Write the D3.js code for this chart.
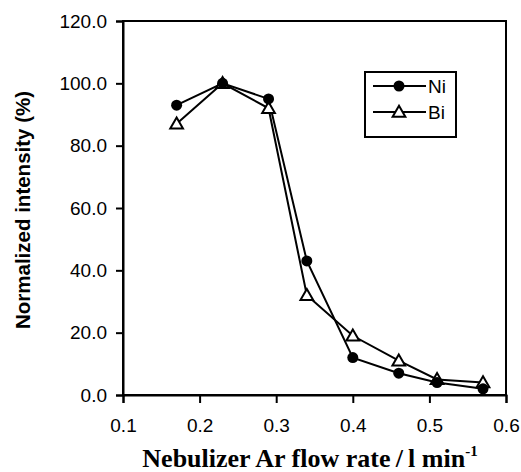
<!DOCTYPE html>
<html>
<head>
<meta charset="utf-8">
<script src="https://cdn.jsdelivr.net/npm/d3@7"></script>
<style>
  body { margin: 0; background: #fff; }
  svg { display: block; }
</style>
</head>
<body>
<div id="chart-area"></div>
<script>
const flowRate = [0.17, 0.23, 0.29, 0.34, 0.40, 0.46, 0.51, 0.57]
const niValues = [93, 100, 95, 43, 12, 7, 4, 2]
const biValues = [87, 100, 92, 32, 19, 11, 5, 4]
const xTicks = [0.1, 0.2, 0.3, 0.4, 0.5, 0.6]
const yTicks = [0, 20, 40, 60, 80, 100, 120]

const MARGIN = { LEFT: 123, RIGHT: 15, TOP: 21, BOTTOM: 77 }
const WIDTH = 521 - MARGIN.LEFT - MARGIN.RIGHT
const HEIGHT = 472 - MARGIN.TOP - MARGIN.BOTTOM

const svg = d3.select("#chart-area").append("svg")
  .attr("width", 521)
  .attr("height", 472)

const g = svg.append("g")
  .attr("transform", `translate(${MARGIN.LEFT}, ${MARGIN.TOP})`)

const x = d3.scaleLinear().domain([0.1, 0.6]).range([0, WIDTH])
const y = d3.scaleLinear().domain([0, 120]).range([HEIGHT, 0])

// frame
g.append("rect")
  .attr("width", WIDTH)
  .attr("height", HEIGHT)
  .attr("fill", "none")
  .attr("stroke", "#000")
  .attr("stroke-width", 2)

g.append("g")
  .attr("transform", `translate(0, ${HEIGHT})`)
  .call(d3.axisBottom(x).tickValues(xTicks).tickFormat(d3.format(".1f")).tickSize(8).tickPadding(16))

g.append("g")
  .call(d3.axisLeft(y).tickValues(yTicks).tickFormat(d3.format(".1f")).tickSize(7).tickPadding(9))

g.selectAll(".domain").attr("stroke-width", 2)
g.selectAll(".tick line").attr("stroke-width", 2)
g.selectAll(".tick text")
  .attr("font-family", "Liberation Sans, Arial, sans-serif")
  .attr("font-size", "19px")
  .attr("fill", "#000")

const line = d3.line()
  .x((d, i) => x(flowRate[i]))
  .y(d => y(d))

const series = [
  { name: "Ni", values: niValues, marker: "circle" },
  { name: "Bi", values: biValues, marker: "triangle" }
]

const triangle = d3.symbol().type(d3.symbolTriangle).size(70)

series.forEach(s => {
  g.append("path")
    .attr("d", line(s.values))
    .attr("fill", "none")
    .attr("stroke", "#000")
    .attr("stroke-width", 2)
})

// Bi markers first, Ni on top
g.selectAll(".bi")
  .data(biValues)
  .enter().append("path")
  .attr("class", "bi")
  .attr("d", triangle)
  .attr("transform", (d, i) => `translate(${x(flowRate[i])}, ${y(d) + 1})`)
  .attr("fill", "#fff")
  .attr("stroke", "#000")
  .attr("stroke-width", 2)

g.selectAll(".ni")
  .data(niValues)
  .enter().append("circle")
  .attr("class", "ni")
  .attr("cx", (d, i) => x(flowRate[i]))
  .attr("cy", d => y(d))
  .attr("r", 5.5)
  .attr("fill", "#000")

// legend
const legend = svg.append("g").attr("transform", "translate(365, 72)")
legend.append("rect")
  .attr("width", 91)
  .attr("height", 65)
  .attr("fill", "#fff")
  .attr("stroke", "#000")
  .attr("stroke-width", 2)

series.forEach((s, i) => {
  const ly = 14 + i * 26
  legend.append("line")
    .attr("x1", 8).attr("x2", 61)
    .attr("y1", ly).attr("y2", ly)
    .attr("stroke", "#000")
    .attr("stroke-width", 2)
  if (s.marker === "circle") {
    legend.append("circle").attr("cx", 34).attr("cy", ly).attr("r", 5.5).attr("fill", "#000")
  } else {
    legend.append("path").attr("d", triangle)
      .attr("transform", `translate(34, ${ly + 1})`)
      .attr("fill", "#fff").attr("stroke", "#000").attr("stroke-width", 2)
  }
  legend.append("text")
    .attr("x", 63).attr("y", ly + 7)
    .attr("font-family", "Liberation Sans, Arial, sans-serif")
    .attr("font-size", "19px")
    .text(s.name)
})

// Y label
svg.append("text")
  .attr("transform", "translate(30, 210) rotate(-90)")
  .attr("text-anchor", "middle")
  .attr("font-family", "Liberation Sans, Arial, sans-serif")
  .attr("font-weight", "bold")
  .attr("font-size", "20.5px")
  .text("Normalized intensity (%)")

// X label
const xLabel = svg.append("text")
  .attr("x", 310)
  .attr("y", 467)
  .attr("text-anchor", "middle")
  .attr("font-family", "Liberation Serif, Times New Roman, serif")
  .attr("font-weight", "bold")
  .attr("font-size", "26px")
xLabel.append("tspan").text("Nebulizer Ar flow rate\u2009/\u2009l min")
xLabel.append("tspan").attr("dy", -11).attr("font-size", "15px").text("-1")
</script>
</body>
</html>
